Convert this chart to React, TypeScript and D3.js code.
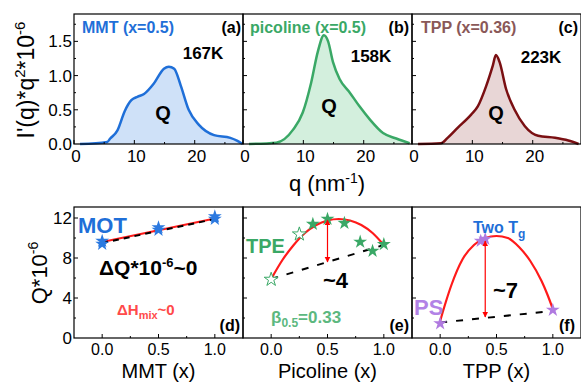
import * as d3 from "d3";

const W = 581;
const H = 383;
const panelLeft = [74, 243, 412];
const panelW = 169;
const topRow = [14, 144];
const botRow = [207, 338];
const font = "'Liberation Sans', Arial, sans-serif";

// top row: I'(q)*q^2 curves
const qA = [1, 5.5, 6, 7.2, 8.4, 9.5, 10.5, 11.6, 13.2, 14.9, 15.7, 16.6, 17.7, 19, 20.7, 23.2, 25.9, 27, 27.9];
const iA = [0, 0.03, 0.08, 0.2, 0.48, 0.64, 0.69, 0.73, 0.88, 1.1, 1.13, 1.1, 0.85, 0.5, 0.28, 0.13, 0.09, 0.05, 0];
const qB = [1, 5.5, 8.3, 9.9, 11.3, 12.4, 13.4, 14.1, 14.9, 16, 17.7, 19.3, 21, 23.2, 25.4, 27.6];
const iB = [0, 0.02, 0.21, 0.46, 0.9, 1.35, 1.59, 1.5, 1.2, 0.95, 0.75, 0.55, 0.36, 0.16, 0.08, 0.01];
const qC = [1, 4.8, 5.9, 7.6, 9.8, 10.9, 12.3, 13.4, 13.9, 14.5, 15.6, 17, 18.7, 20.9, 23.7, 25.9, 27.6];
const iC = [0, 0.01, 0.09, 0.24, 0.43, 0.55, 0.85, 1.15, 1.3, 1.2, 0.8, 0.5, 0.26, 0.12, 0.09, 0.05, 0];

const topTitles = ["MMT (x=0.5)", "picoline (x=0.5)", "TPP (x=0.36)"];
const topTemps = ["167K", "158K", "223K"];
const topLetters = ["(a)", "(b)", "(c)"];
const lineColors = ["#1f6fd8", "#3aa866", "#7a0f12"];
const fillColors = ["#cfe1f8", "#d3efdd", "#e8d6d6"];
const titleColors = ["#1f6fd8", "#3aa866", "#8a5858"];

// bottom row: Q vs composition
const mmtX = [0, 0, 0.5, 0.5, 1, 1];
const mmtQ = [9.4, 9.7, 10.8, 11.05, 11.9, 12.15];
const mmtFitX = [0, 1];
const mmtFitQ = [9.6, 11.95];
const mmtLinQ = [9.5, 11.9];

const picX = [0, 0.25, 0.37, 0.5, 0.65, 0.79, 0.9, 1.0];
const picQ = [5.85, 10.38, 11.39, 11.9, 11.49, 9.61, 8.7, 9.37];
const picOpen = [true, true, false, false, false, false, false, false];
const picFitX = [0, 0.1, 0.2, 0.3, 0.4, 0.5, 0.6, 0.7, 0.8, 0.9, 1.0];
const picFitQ = [5.9, 7.8, 9.3, 10.5, 11.3, 11.75, 11.9, 11.75, 11.3, 10.5, 9.3];
const picLinQ = [5.9, 9.3];
const picArrow = [0.5, 7.6, 11.8];

const tppX = [0, 0.36, 0.4, 1.0];
const tppQ = [1.45, 9.7, 9.9, 2.8];
const tppFitX = [0, 0.05, 0.1, 0.2, 0.3, 0.4, 0.5, 0.6, 0.7, 0.8, 0.9, 0.95, 1.0];
const tppFitQ = [1.7, 3.6, 5.3, 7.9, 9.3, 10.0, 10.2, 10.0, 9.1, 7.7, 5.7, 4.4, 2.9];
const tppLinQ = [1.55, 2.7];
const tppArrow = [0.4, 2.1, 9.7];

const botXLabels = ["MMT (x)", "Picoline (x)", "TPP (x)"];
const botLetters = ["(d)", "(e)", "(f)"];
const starColors = ["#2b79e0", "#3aa866", "#b07ae0"];

const yTop = d3.scaleLinear().domain([0, 1.9]).range([topRow[1], topRow[0]]);
const yBot = d3.scaleLinear().domain([0, 13.1]).range([botRow[1], botRow[0]]);
const xTopScale = (i: number) => d3.scaleLinear().domain([0, 28]).range([panelLeft[i], panelLeft[i] + panelW]);
const xBotScale = (i: number) => d3.scaleLinear().domain([-0.25, 1.25]).range([panelLeft[i], panelLeft[i] + panelW]);

const topData = [
  [qA, iA],
  [qB, iB],
  [qC, iC],
];

const star = d3.symbol(d3.symbolStar, 60)() as string;

const App = () => {
  const topPanels = topData.map(([qs, is], i) => {
    const x = xTopScale(i);
    const pts = qs.map((q, k) => [q, is[k]] as [number, number]);
    const line = d3.line<[number, number]>().x((d) => x(d[0])).y((d) => yTop(d[1])).curve(d3.curveMonotoneX);
    const area = d3
      .area<[number, number]>()
      .x((d) => x(d[0]))
      .y0(yTop(0))
      .y1((d) => yTop(d[1]))
      .curve(d3.curveMonotoneX);
    return (
      <g key={"t" + i}>
        <path d={area(pts) ?? undefined} fill={fillColors[i]} />
        <path d={line(pts) ?? undefined} fill="none" stroke={lineColors[i]} strokeWidth={2.5} />
        {[0, 10, 20].map((t) => (
          <g key={t}>
            <line x1={x(t)} x2={x(t)} y1={topRow[1]} y2={topRow[1] - 4} stroke="#000" />
            <text x={x(t) + 2} y={162} textAnchor="middle" fontSize={17}>
              {t}
            </text>
          </g>
        ))}
        {[5, 15, 25].map((t) => (
          <line key={t} x1={x(t)} x2={x(t)} y1={topRow[1]} y2={topRow[1] - 2} stroke="#000" />
        ))}
        {[0.25, 0.5, 0.75, 1, 1.25, 1.5, 1.75].map((t) => (
          <line key={t} x1={panelLeft[i]} x2={panelLeft[i] + (t % 0.5 === 0 ? 4 : 2)} y1={yTop(t)} y2={yTop(t)} stroke="#000" />
        ))}
        <rect x={panelLeft[i]} y={topRow[0]} width={panelW} height={topRow[1] - topRow[0]} fill="none" stroke="#000" strokeWidth={1.2} />
      </g>
    );
  });

  const yTicksTop = [0, 0.5, 1, 1.5];
  const yTicksBot = [0, 4, 8, 12];

  const botFrame = (i: number) => {
    const x = xBotScale(i);
    return (
      <g key={"f" + i}>
        {[0, 0.5, 1].map((t) => (
          <g key={t}>
            <line x1={x(t)} x2={x(t)} y1={botRow[1]} y2={botRow[1] - 4} stroke="#000" />
            <text x={x(t)} y={355} textAnchor="middle" fontSize={16}>
              {t.toFixed(1)}
            </text>
          </g>
        ))}
        {[0.25, 0.75].map((t) => (
          <line key={t} x1={x(t)} x2={x(t)} y1={botRow[1]} y2={botRow[1] - 2} stroke="#000" />
        ))}
        {[2, 4, 6, 8, 10, 12].map((t) => (
          <line key={t} x1={panelLeft[i]} x2={panelLeft[i] + (t % 4 === 0 ? 4 : 2)} y1={yBot(t)} y2={yBot(t)} stroke="#000" />
        ))}
        <rect x={panelLeft[i]} y={botRow[0]} width={panelW} height={botRow[1] - botRow[0]} fill="none" stroke="#000" strokeWidth={1.2} />
        <text x={panelLeft[i] + panelW / 2} y={378} textAnchor="middle" fontSize={20}>
          {botXLabels[i]}
        </text>
      </g>
    );
  };

  const lineOf = (x: d3.ScaleLinear<number, number>, xs: number[], ys: number[], curve = d3.curveLinear) =>
    d3
      .line<number>()
      .x((_, k) => x(xs[k]))
      .y((d) => yBot(d))
      .curve(curve)(ys) ?? undefined;

  const xd = xBotScale(0);
  const xe = xBotScale(1);
  const xf = xBotScale(2);

  return (
    <svg width={W} height={H} style={{ position: "absolute", left: 0, top: 0, background: "#fff" }} fontFamily={font}>
      <defs>
        <marker id="arr" viewBox="0 0 10 10" refX={9} refY={5} markerUnits="userSpaceOnUse" markerWidth={6} markerHeight={7} orient="auto-start-reverse">
          <path d="M0,0L10,5L0,10z" fill="#ff0000" />
        </marker>
      </defs>
      <rect width={W} height={H} fill="#fff" />
      {topPanels}
      {yTicksTop.map((t) => (
        <text key={t} x={72} y={yTop(t) + 6} textAnchor="end" fontSize={17}>
          {t.toFixed(1)}
        </text>
      ))}
      {topTitles.map((t, i) => (
        <text key={t} x={panelLeft[i] + [8, 7, 9][i]} y={33} fontSize={16} fontWeight="bold" fill={titleColors[i]}>
          {t}
        </text>
      ))}
      {topLetters.map((t, i) => (
        <text key={t} x={panelLeft[i] + [167, 166, 166][i]} y={33} textAnchor="end" fontSize={16} fontWeight="bold">
          {t}
        </text>
      ))}
      {topTemps.map((t, i) => (
        <text key={t} x={[203, 371, 541][i]} y={[59, 62, 63][i]} textAnchor="middle" fontSize={17} fontWeight="bold">
          {t}
        </text>
      ))}
      {[163, 329, 496].map((cx, i) => (
        <text key={cx} x={cx} y={[120, 113, 120][i]} textAnchor="middle" fontSize={20} fontWeight="bold">
          Q
        </text>
      ))}
      <text transform="translate(34,80) rotate(-90)" textAnchor="middle" fontSize={23}>
        I'(q)*q<tspan dy={-9} fontSize={15}>2</tspan>
        <tspan dy={9}>*10</tspan>
        <tspan dy={-9} fontSize={15}>-6</tspan>
      </text>
      <text x={327} y={191} textAnchor="middle" fontSize={22}>
        q (nm<tspan dy={-8} fontSize={14}>-1</tspan>
        <tspan dy={8}>)</tspan>
      </text>

      {/* bottom row */}
      {[0, 1, 2].map(botFrame)}
      {yTicksBot.map((t) => (
        <text key={t} x={72} y={yBot(t) + 6} textAnchor="end" fontSize={17}>
          {t}
        </text>
      ))}
      <text transform="translate(47,273) rotate(-90)" textAnchor="middle" fontSize={22}>
        Q*10<tspan dy={-9} fontSize={14}>-6</tspan>
      </text>

      {/* (d) MMT */}
      <path d={lineOf(xd, mmtFitX, mmtFitQ)} stroke="#ff1a1a" strokeWidth={2} fill="none" />
      <path d={lineOf(xd, mmtFitX, mmtLinQ)} stroke="#000" strokeWidth={2} strokeDasharray="6,5" fill="none" />
      {mmtX.map((v, k) => (
        <path key={k} d={star} transform={`translate(${xd(v)},${yBot(mmtQ[k])})`} fill={starColors[0]} />
      ))}
      <text x={78} y={233} fontSize={22} fontWeight="bold" fill="#1f6fd8">
        MOT
      </text>
      <text x={99} y={275} fontSize={21} fontWeight="bold">
        ΔQ*10<tspan dy={-8} fontSize={13}>-6</tspan>
        <tspan dy={8}>~0</tspan>
      </text>
      <text x={117} y={315} fontSize={15} fontWeight="bold" fill="#ff4a4a">
        ΔH<tspan dy={4} fontSize={11}>mix</tspan>
        <tspan dy={-4}>~0</tspan>
      </text>
      <text x={240} y={331} textAnchor="end" fontSize={16} fontWeight="bold">
        {botLetters[0]}
      </text>

      {/* (e) Picoline */}
      <path d={lineOf(xe, [0, 1], picLinQ)} stroke="#000" strokeWidth={2} strokeDasharray="7,9" fill="none" />
      <path d={lineOf(xe, picFitX, picFitQ, d3.curveMonotoneX)} stroke="#ff1a1a" strokeWidth={2.2} fill="none" />
      {picX.map((v, k) => (
        <path
          key={k}
          d={star}
          transform={`translate(${xe(v)},${yBot(picQ[k])})`}
          fill={picOpen[k] ? "#fff" : starColors[1]}
          stroke={starColors[1]}
          strokeWidth={picOpen[k] ? 1 : 0}
        />
      ))}
      <line
        x1={xe(picArrow[0])}
        x2={xe(picArrow[0])}
        y1={yBot(picArrow[1])}
        y2={yBot(picArrow[2])}
        stroke="#ff0000"
        strokeWidth={1.2}
        markerStart="url(#arr)"
        markerEnd="url(#arr)"
      />
      <text x={246} y={253} fontSize={20} fontWeight="bold" fill="#3aa866">
        TPE
      </text>
      <text x={323} y={288} fontSize={22} fontWeight="bold">
        ~4
      </text>
      <text x={271} y={323} fontSize={17} fontWeight="bold" fill="#5cb87f">
        β<tspan dy={4} fontSize={12}>0.5</tspan>
        <tspan dy={-4}>=0.33</tspan>
      </text>
      <text x={409} y={331} textAnchor="end" fontSize={16} fontWeight="bold">
        {botLetters[1]}
      </text>

      {/* (f) TPP */}
      <path d={lineOf(xf, [0, 1], tppLinQ)} stroke="#000" strokeWidth={2} strokeDasharray="7,9" fill="none" />
      <path d={lineOf(xf, tppFitX, tppFitQ, d3.curveMonotoneX)} stroke="#ff1a1a" strokeWidth={2.2} fill="none" />
      {tppX.map((v, k) => (
        <path key={k} d={star} transform={`translate(${xf(v)},${yBot(tppQ[k])})`} fill={starColors[2]} />
      ))}
      <line
        x1={xf(tppArrow[0])}
        x2={xf(tppArrow[0])}
        y1={yBot(tppArrow[1])}
        y2={yBot(tppArrow[2])}
        stroke="#ff0000"
        strokeWidth={1.2}
        markerStart="url(#arr)"
        markerEnd="url(#arr)"
      />
      <text x={473} y={233} fontSize={16} fontWeight="bold" fill="#1f6fd8">
        Two T<tspan dy={5} fontSize={12}>g</tspan>
      </text>
      <text x={493} y={298} fontSize={22} fontWeight="bold">
        ~7
      </text>
      <text x={414} y={315} fontSize={22} fontWeight="bold" fill="#b282e6">
        PS
      </text>
      <text x={575} y={331} textAnchor="end" fontSize={16} fontWeight="bold">
        {botLetters[2]}
      </text>
    </svg>
  );
};

export default App;
